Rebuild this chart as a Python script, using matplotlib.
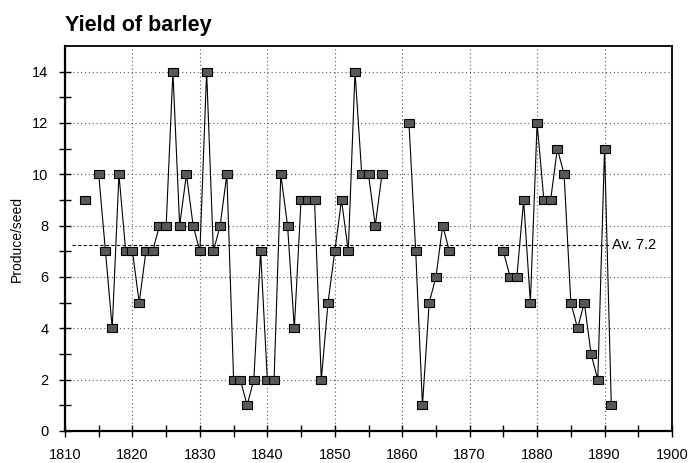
import numpy as np
import matplotlib
matplotlib.use("Agg")
import matplotlib.pyplot as plt

plt.rcParams['font.family'] = ['Liberation Sans', 'DejaVu Sans']

years = list(range(1813, 1892))
values = [9, np.nan, 10, 7, 4, 10, 7, 7, 5, 7,          # 1813-1822
          7, 8, 8, 14, 8, 10, 8, 7, 14, 7,              # 1823-1832
          8, 10, 2, 2, 1, 2, 7, 2, 2, 10,               # 1833-1842
          8, 4, 9, 9, 9, 2, 5, 7, 9, 7,                 # 1843-1852
          14, 10, 10, 8, 10, np.nan, np.nan, np.nan, 12, 7,  # 1853-1862
          1, 5, 6, 8, 7, np.nan, np.nan, np.nan, np.nan, np.nan,  # 1863-1872
          np.nan, np.nan, 7, 6, 6, 9, 5, 12, 9, 9,      # 1873-1882
          11, 10, 5, 4, 5, 3, 2, 11, 1]                 # 1883-1891
average = 7.25
average_label = "Av. 7.2"
avg_span = [1811, 1891]
title = "Yield of barley"
ylabel = "Produce/seed"

fig = plt.figure(figsize=(6.99, 4.63), dpi=100)
ax = fig.add_axes([65/699, 1 - 431/463, (672 - 65)/699, (431 - 46)/463])

rect = [(-1, -0.75), (1, -0.75), (1, 0.75), (-1, 0.75), (-1, -0.75)]
ax.plot(years, values, color='black', linewidth=0.8,
        marker=rect, markersize=6.8, markerfacecolor='#585858',
        markeredgecolor='black', markeredgewidth=0.8, zorder=3)

ax.plot(avg_span, [average, average], color='black', linestyle=(0, (3, 2)),
        linewidth=0.8, zorder=2)
ax.text(avg_span[1] + 0.1, average, average_label, va='center', ha='left',
        fontsize=10.5)

ax.set_xlim(1810, 1900)
ax.set_ylim(0, 15)
ax.set_xticks(np.arange(1810, 1901, 10))
ax.set_xticks(np.arange(1815, 1900, 10), minor=True)
ax.set_yticks(np.arange(0, 15, 2))
ax.set_yticks(np.arange(1, 15, 2), minor=True)

ax.tick_params(which='both', direction='inout', length=8, width=1.0,
               labelsize=10.5, pad=8, color='black')
ax.tick_params(which='minor', length=8)

ax.grid(True, which='major', color='#555555', linestyle=(0, (1, 2.5)),
        linewidth=0.8)
ax.set_axisbelow(True)

for side in ['left', 'bottom']:
    ax.spines[side].set_linewidth(1.6)
for side in ['top', 'right']:
    ax.spines[side].set_linewidth(1.3)

ax.set_ylabel(ylabel, fontsize=10, labelpad=6)
fig.text(65/699, 1 - 31/463, title, fontsize=15.5, fontweight='bold',
         ha='left', va='baseline')

fig.savefig('out.png', dpi=100)
